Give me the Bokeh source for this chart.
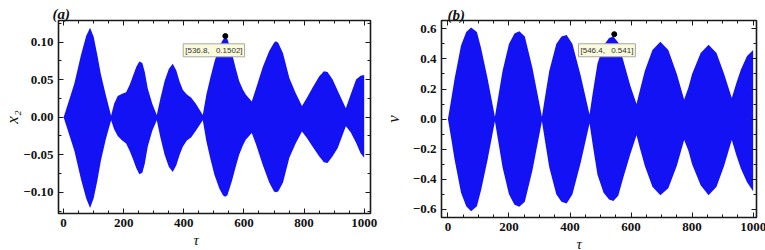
import numpy as np
from bokeh.plotting import figure
from bokeh.layouts import row
from bokeh.models import Range1d, LinearAxis, FixedTicker, Label, Title
from bokeh.embed import file_html
from bokeh.resources import INLINE

# ---------------- data ----------------
# Panel (a): envelope of x2(tau)
tau_a = [0, 8, 20, 36, 58, 75, 88, 100, 112, 124, 140, 158,
         168, 180, 195, 208, 220, 230, 242, 252, 262, 270, 280, 295, 310,
         322, 336, 350, 363, 375, 386, 397, 410, 424, 440, 463,
         475, 488, 502, 518, 530, 537, 545, 560, 572, 584, 596, 606, 626,
         640, 662, 684, 700, 706, 714, 730, 751, 772, 793,
         810, 828, 850, 866, 878, 895, 912, 939,
         955, 973, 988, 1000]
x2_upper = [0, 0.01, 0.025, 0.045, 0.083, 0.108, 0.119, 0.107, 0.083, 0.057, 0.03, 0.002,
            0.018, 0.028, 0.031, 0.033, 0.043, 0.054, 0.067, 0.074, 0.072, 0.06, 0.038, 0.018, 0.003,
            0.025, 0.048, 0.064, 0.071, 0.062, 0.047, 0.036, 0.03, 0.026, 0.018, 0.003,
            0.03, 0.052, 0.074, 0.094, 0.103, 0.106, 0.104, 0.085, 0.066, 0.048, 0.037, 0.030, 0.021,
            0.038, 0.066, 0.088, 0.099, 0.101, 0.099, 0.085, 0.052, 0.032, 0.015,
            0.026, 0.039, 0.054, 0.061, 0.060, 0.05, 0.035, 0.012,
            0.03, 0.05, 0.055, 0.056]
x2_lower = [0, -0.01, -0.025, -0.045, -0.083, -0.108, -0.121, -0.108, -0.085, -0.058, -0.03, -0.004,
            -0.016, -0.025, -0.031, -0.035, -0.045, -0.055, -0.068, -0.076, -0.074, -0.062, -0.039, -0.018, -0.004,
            -0.027, -0.05, -0.066, -0.073, -0.064, -0.05, -0.039, -0.031, -0.027, -0.018, -0.004,
            -0.032, -0.055, -0.077, -0.095, -0.104, -0.106, -0.104, -0.085, -0.067, -0.05, -0.038, -0.030, -0.021,
            -0.036, -0.063, -0.087, -0.099, -0.1, -0.099, -0.087, -0.054, -0.035, -0.019,
            -0.028, -0.039, -0.052, -0.06, -0.061, -0.052, -0.041, -0.012,
            -0.02, -0.034, -0.048, -0.054]

# Panel (b): envelope of v(tau)
tau_b = [0, 10, 22, 43, 60, 76, 95, 109, 130, 154,
         165, 179, 200, 218, 234, 252, 277, 308,
         320, 332, 355, 372, 389, 408, 435, 464,
         475, 490, 510, 528, 542, 558, 576, 598, 618,
         630, 645, 670, 696, 722, 750, 774,
         788, 800, 828, 854, 880, 905, 930,
         945, 960, 980, 1000]
v_upper = [0, 0.12, 0.27, 0.49, 0.58, 0.61, 0.58, 0.47, 0.27, 0.015,
           0.15, 0.32, 0.50, 0.57, 0.585, 0.55, 0.34, 0.015,
           0.17, 0.32, 0.50, 0.55, 0.56, 0.50, 0.29, 0.03,
           0.18, 0.37, 0.49, 0.54, 0.55, 0.51, 0.38, 0.22, 0.10,
           0.20, 0.32, 0.46, 0.515, 0.46, 0.30, 0.13,
           0.21, 0.30, 0.44, 0.495, 0.44, 0.30, 0.14,
           0.24, 0.33, 0.42, 0.46]
v_lower = [0, -0.12, -0.27, -0.49, -0.58, -0.613, -0.58, -0.47, -0.27, -0.015,
           -0.15, -0.32, -0.50, -0.57, -0.584, -0.55, -0.34, -0.015,
           -0.17, -0.32, -0.50, -0.55, -0.562, -0.50, -0.29, -0.03,
           -0.18, -0.37, -0.49, -0.535, -0.545, -0.51, -0.38, -0.23, -0.107,
           -0.20, -0.31, -0.45, -0.507, -0.46, -0.31, -0.14,
           -0.21, -0.30, -0.44, -0.507, -0.45, -0.31, -0.14,
           -0.24, -0.33, -0.42, -0.48]

# tooltip points (as shown on the picture)
a_point_tau = [538]
a_point_val = [0.108]
a_tip_text = "[536.8,\u2002 0.1502]"
b_point_tau = [545]
b_point_val = [0.565]
b_tip_text = "[546.4,\u2002 0.541]"

# ticks
x_ticks = [0, 200, 400, 600, 800, 1000]
x_tick_labels = ["0", "200", "400", "600", "800", "1000"]
a_y_ticks = [-0.10, -0.05, 0.0, 0.05, 0.10]
a_y_labels = ["\u22120.10", "\u22120.05", "0.00", "0.05", "0.10"]
b_y_ticks = [-0.6, -0.4, -0.2, 0.0, 0.2, 0.4, 0.6]
b_y_labels = ["\u22120.6", "\u22120.4", "\u22120.2", "0.0", "0.2", "0.4", "0.6"]

# ---------------- styling ----------------
BLUE = "#1212f4"
FRAME = "#1a1a1a"
SERIF = "Liberation Serif"


def style_axis(ax, ticks, minor, labels=None, show_labels=True):
    ax.ticker = FixedTicker(ticks=ticks, minor_ticks=minor)
    ax.axis_line_color = None
    ax.major_tick_in = 5
    ax.major_tick_out = 0
    ax.minor_tick_in = 3
    ax.minor_tick_out = 0
    ax.major_tick_line_color = FRAME
    ax.minor_tick_line_color = FRAME
    ax.major_tick_line_width = 1
    ax.minor_tick_line_width = 1
    if show_labels:
        ax.major_label_text_font = SERIF
        ax.major_label_text_font_style = "bold"
        ax.major_label_text_font_size = "13px"
        ax.major_label_text_color = "#111111"
        ax.major_label_standoff = 5
        if labels is not None:
            ax.major_label_overrides = {t: s for t, s in zip(ticks, labels)}
    else:
        ax.major_label_text_font_size = "0px"
        ax.major_label_standoff = 0


def make_panel(tau, up, lo, xr, yr, yticks, ylabels, yminor,
               fw, fh, bl, bt, br, bb,
               title, title_offset, title_standoff, ylab, ylab_standoff, tau_offset):
    p = figure(frame_width=fw, frame_height=fh,
               x_range=Range1d(*xr), y_range=Range1d(*yr),
               output_backend="svg", toolbar_location=None,
               x_axis_type=None, y_axis_type=None,
               min_border_left=bl, min_border_top=bt,
               min_border_right=br, min_border_bottom=bb)
    p.background_fill_color = "white"
    p.border_fill_color = "white"
    p.outline_line_color = FRAME
    p.outline_line_width = 1.6
    p.xgrid.visible = False
    p.ygrid.visible = False

    p.varea(x=tau, y1=lo, y2=up, fill_color=BLUE, fill_alpha=1.0)

    xminor = list(np.arange(0, 1001, 50))
    bx = LinearAxis()
    style_axis(bx, x_ticks, xminor, x_tick_labels, True)
    p.add_layout(bx, "below")
    tx = LinearAxis()
    style_axis(tx, x_ticks, xminor, None, False)
    p.add_layout(tx, "above")
    ly = LinearAxis()
    style_axis(ly, yticks, yminor, ylabels, True)
    ly.axis_label = ylab
    ly.axis_label_text_font = SERIF
    ly.axis_label_text_font_style = "italic"
    ly.axis_label_text_font_size = "17px"
    ly.axis_label_text_color = "#111111"
    ly.axis_label_standoff = ylab_standoff
    p.add_layout(ly, "left")
    ry = LinearAxis()
    style_axis(ry, yticks, yminor, None, False)
    p.add_layout(ry, "right")

    p.title.text = title
    p.title.align = "left"
    p.title.offset = title_offset
    p.title.text_font = SERIF
    p.title.text_font_style = "bold italic"
    p.title.text_font_size = "15px"
    p.title.text_color = "#111111"
    p.title.standoff = title_standoff

    t = Title(text="\u03c4", align="left", offset=tau_offset,
              text_font=SERIF, text_font_style="italic",
              text_font_size="15px", text_color="#111111", standoff=0)
    p.add_layout(t, "below")
    return p


# ---------------- panel (a) ----------------
pa = make_panel(tau_a, x2_upper, x2_lower, (-17, 1021), (-0.1283, 0.1287),
                a_y_ticks, a_y_labels, list(np.round(np.arange(-0.125, 0.126, 0.025), 3)),
                312, 193, 58, 20, 10, 36,
                "(a)", -6, -2, "x\u2082", -2, 135)
pa.scatter(x=a_point_tau, y=a_point_val, size=5, color="black")
pa.add_layout(Label(x=500, y=0.089, text=a_tip_text, text_font="Liberation Sans",
                    text_font_size="8px", text_align="center", text_baseline="middle",
                    text_color="#333333", background_fill_color="#fafadc",
                    border_line_color="#a8a8a0", padding=2))

# ---------------- panel (b) ----------------
pb = make_panel(tau_b, v_upper, v_lower, (-21, 1011), (-0.655, 0.656),
                b_y_ticks, b_y_labels, list(np.round(np.arange(-0.6, 0.61, 0.1), 2)),
                315, 197, 54, 18, 11, 35,
                "(b)", 6, -4, "v", 7, 135)
pb.scatter(x=b_point_tau, y=b_point_val, size=5, color="black")
pb.add_layout(Label(x=521, y=0.458, text=b_tip_text, text_font="Liberation Sans",
                    text_font_size="8px", text_align="center", text_baseline="middle",
                    text_color="#333333", background_fill_color="#fafadc",
                    border_line_color="#a8a8a0", padding=2))

layout = row(pa, pb)
open("out.html", "w").write(file_html(layout, INLINE))
